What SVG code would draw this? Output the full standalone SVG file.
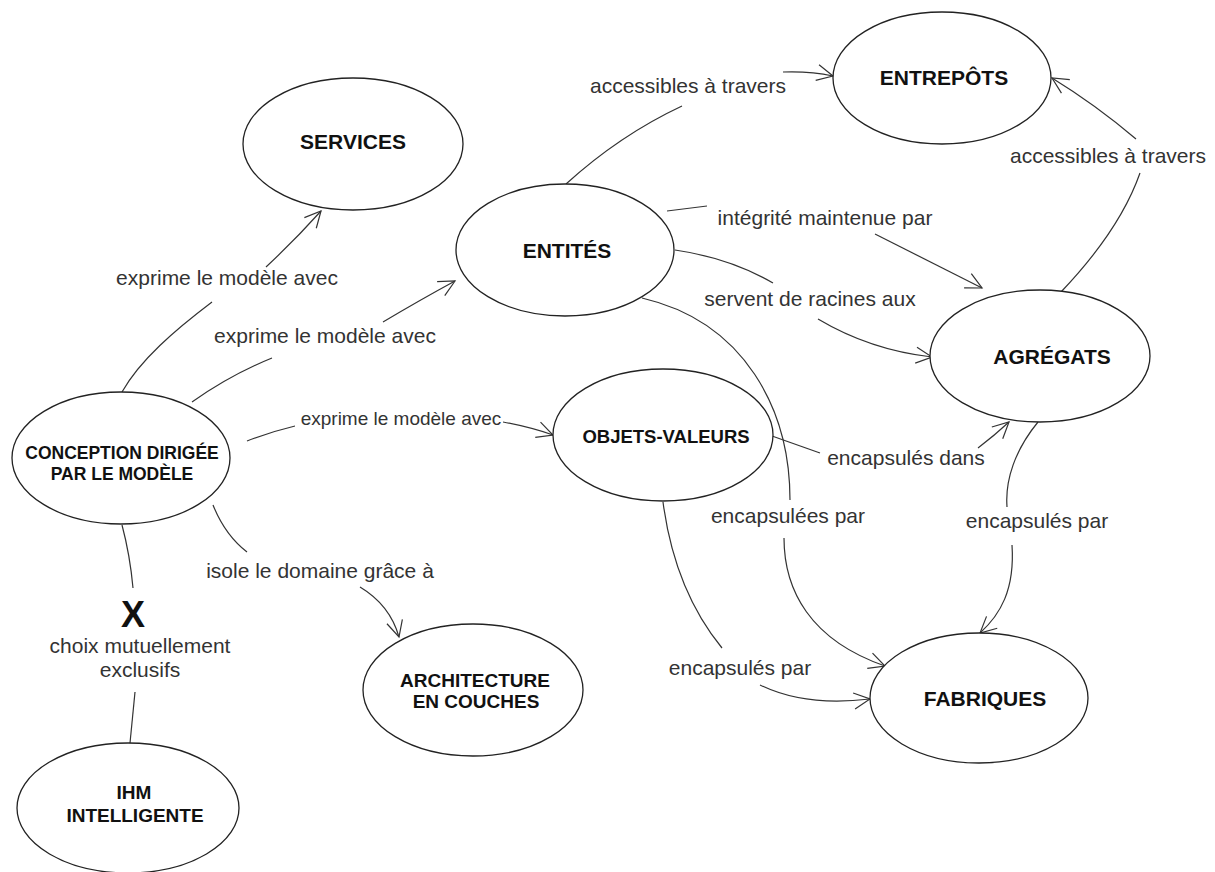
<svg xmlns="http://www.w3.org/2000/svg" width="1215" height="872" viewBox="0 0 1215 872">
<style>
.node ellipse{fill:#fff;stroke:#222;stroke-width:1.3}
.nt{font-family:"Liberation Sans",Arial,sans-serif;font-weight:bold;fill:#111;text-anchor:middle}
.lb{font-family:"Liberation Sans",Arial,sans-serif;font-size:21px;fill:#333;text-anchor:middle}
.c path{fill:none;stroke:#333;stroke-width:1.2}
.c path.a{marker-end:url(#ah)}
</style>
<defs>
<marker id="ah" viewBox="-20 -10 22 20" markerWidth="22" markerHeight="20" refX="0" refY="0" orient="auto" markerUnits="userSpaceOnUse">
<path d="M-16,-8 L0,0 L-16,8" fill="none" stroke="#333" stroke-width="1.2"/>
</marker>
</defs>
<rect width="1215" height="872" fill="#fff"/>

<g class="c" id="connectors">
<path d="M122,392 C140,360 175,330 212,302"/>
<path class="a" d="M266,267 Q295,240 321,211"/>
<path d="M192,402 Q230,375 272,358"/>
<path class="a" d="M383,322 Q420,300 455,281"/>
<path d="M247,441 Q270,432 295,426"/>
<path class="a" d="M503,422 Q530,427 553,435"/>
<path d="M213,505 Q225,535 247,552"/>
<path class="a" d="M360,587 Q390,605 399,637"/>
<path d="M122,525 Q130,555 133,588"/>
<path d="M135,692 L130,743"/>
<path d="M566,184 Q620,135 682,106"/>
<path class="a" d="M783,72 Q810,71 833,76"/>
<path d="M667,211 L707,206"/>
<path class="a" d="M875,234 L982,288"/>
<path d="M675,250 Q730,258 773,283"/>
<path class="a" d="M818,319 Q870,350 932,357"/>
<path d="M642,298 C745,322 790,410 790,500"/>
<path class="a" d="M784,538 C784,590 810,640 885,666"/>
<path d="M772,436 L820,453"/>
<path class="a" d="M978,448 Q995,435 1009,422"/>
<path d="M663,502 C672,570 695,615 722,648"/>
<path class="a" d="M760,685 Q805,707 870,699"/>
<path d="M1038,422 C1015,450 1005,480 1007,507"/>
<path class="a" d="M1012,545 C1015,590 1000,615 980,633"/>
<path d="M1061,292 Q1120,230 1140,173"/>
<path class="a" d="M1136,139 Q1096,105 1052,78"/>
</g>

<g id="labels">
<text class="lb" x="227" y="285">exprime le modèle avec</text>
<text class="lb" x="325" y="343">exprime le modèle avec</text>
<text class="lb" x="401" y="425" style="font-size:19px">exprime le modèle avec</text>
<text class="lb" x="320" y="578">isole le domaine grâce à</text>
<text class="nt" x="133" y="627" style="font-size:36px">X</text>
<text class="lb" x="140" y="653">choix mutuellement</text>
<text class="lb" x="140" y="677">exclusifs</text>
<text class="lb" x="688" y="93">accessibles à travers</text>
<text class="lb" x="825" y="225">intégrité maintenue par</text>
<text class="lb" x="810" y="306">servent de racines aux</text>
<text class="lb" x="788" y="523">encapsulées par</text>
<text class="lb" x="906" y="465">encapsulés dans</text>
<text class="lb" x="1108" y="163">accessibles à travers</text>
<text class="lb" x="1037" y="528">encapsulés par</text>
<text class="lb" x="740" y="675">encapsulés par</text>
</g>

<g class="node" id="services"><ellipse cx="353" cy="144" rx="110" ry="66"/><text class="nt" x="353" y="149" style="font-size:21px">SERVICES</text></g>
<g class="node" id="entites"><ellipse cx="565" cy="250" rx="109" ry="66"/><text class="nt" x="567" y="258" style="font-size:21px">ENTITÉS</text></g>
<g class="node" id="entrepots"><ellipse cx="942" cy="78" rx="109" ry="66"/><text class="nt" x="944" y="85" style="font-size:21px">ENTREPÔTS</text></g>
<g class="node" id="agregats"><ellipse cx="1040" cy="356" rx="110" ry="66"/><text class="nt" x="1052" y="364" style="font-size:21px">AGRÉGATS</text></g>
<g class="node" id="objets-valeurs"><ellipse cx="663" cy="435" rx="110" ry="66"/><text class="nt" x="666" y="443" style="font-size:18.5px">OBJETS-VALEURS</text></g>
<g class="node" id="fabriques"><ellipse cx="979" cy="698" rx="109" ry="65"/><text class="nt" x="985" y="706" style="font-size:21px">FABRIQUES</text></g>
<g class="node" id="architecture"><ellipse cx="473" cy="690" rx="110" ry="66"/><text class="nt" x="475" y="687" style="font-size:19px">ARCHITECTURE</text><text class="nt" x="476" y="708" style="font-size:19px">EN COUCHES</text></g>
<g class="node" id="ihm"><ellipse cx="128" cy="808" rx="111" ry="65"/><text class="nt" x="134" y="799" style="font-size:19px">IHM</text><text class="nt" x="135" y="822" style="font-size:19px">INTELLIGENTE</text></g>
<g class="node" id="conception"><ellipse cx="121" cy="458" rx="109" ry="66"/><text class="nt" x="122" y="459" style="font-size:17.5px">CONCEPTION DIRIGÉE</text><text class="nt" x="122" y="480" style="font-size:17.5px">PAR LE MODÈLE</text></g>
</svg>
